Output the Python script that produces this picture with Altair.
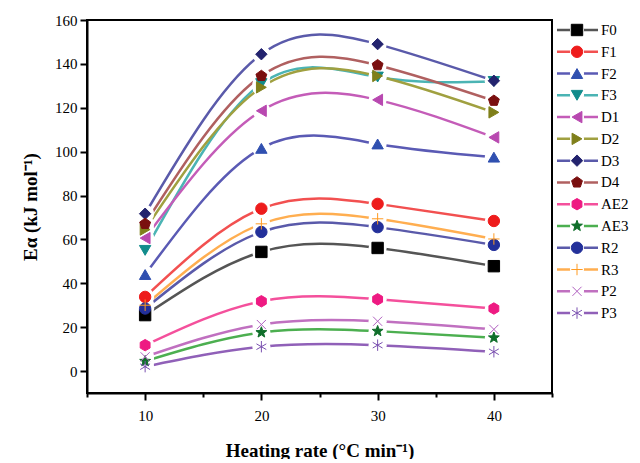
import math
import altair as alt
import pandas as pd

# ---------------- data ----------------
x_rates = [10, 20, 30, 40]
series = ["F0", "F1", "F2", "F3", "D1", "D2", "D3", "D4",
          "AE2", "AE3", "R2", "R3", "P2", "P3"]
F0 = [25.5, 54.3, 56.1, 47.8]
F1 = [33.8, 74.0, 76.2, 68.4]
F2 = [44.0, 101.5, 103.5, 97.5]
F3 = [55.0, 131.0, 134.0, 132.0]
D1 = [60.6, 118.6, 123.6, 106.5]
D2 = [64.5, 129.3, 134.5, 117.9]
D3 = [71.7, 144.4, 149.0, 132.3]
D4 = [67.1, 134.5, 139.4, 123.2]
AE2 = [11.8, 31.8, 32.7, 28.5]
AE3 = [4.5, 17.6, 18.2, 15.2]
R2 = [28.5, 63.4, 65.6, 57.5]
R3 = [30.0, 67.1, 69.4, 60.2]
P2 = [6.5, 21.2, 22.7, 19.0]
P3 = [2.0, 11.1, 11.8, 8.8]
values = [F0, F1, F2, F3, D1, D2, D3, D4, AE2, AE3, R2, R3, P2, P3]

# ---------------- styles ----------------
line_colors = ["#555555", "#f25050", "#5a5ab4", "#4bb4b4", "#c45cb8", "#a0a040",
               "#5a5aaa", "#b06060", "#f4509c", "#4caf50", "#5a5aaa", "#ffae50",
               "#c070c0", "#9060b8"]
marker_colors = ["#000000", "#ee1c1c", "#3050b0", "#128c8c", "#b848b0", "#7f7f1a",
                 "#23236e", "#7a0f0f", "#ee1a82", "#0f6e2a", "#23309a", "#ff9a20",
                 "#b060c0", "#7a50b0"]


def poly(pts):
    return "M" + "L".join(f"{x:.3f},{y:.3f}" for x, y in pts) + "Z"


pentagon = poly([(math.cos(math.radians(-90 + 72 * k)), math.sin(math.radians(-90 + 72 * k))) for k in range(5)])
hexagon = poly([(math.cos(math.radians(-90 + 60 * k)), math.sin(math.radians(-90 + 60 * k))) for k in range(6)])
star = poly([((1.0 if k % 2 == 0 else 0.42) * math.cos(math.radians(-90 + 36 * k)),
              (1.0 if k % 2 == 0 else 0.42) * math.sin(math.radians(-90 + 36 * k))) for k in range(10)])
plus = "M-1,0L1,0M0,-1L0,1"
xcross = "M-0.8,-0.8L0.8,0.8M-0.8,0.8L0.8,-0.8"
asterisk = "M0,-1L0,1M-0.866,-0.5L0.866,0.5M-0.866,0.5L0.866,-0.5"

shapes = ["square", "circle", "triangle-up", "triangle-down", "triangle-left",
          "triangle-right", "diamond", pentagon, hexagon, star, "circle",
          plus, xcross, asterisk]
fill_op = [1] * 11 + [0, 0, 0]
stroke_w = [1] * 11 + [1.5, 1.5, 1.5]

rows = []
for s, vals in zip(series, values):
    for xv, yv in zip(x_rates, vals):
        rows.append({"series": s, "rate": xv, "E": yv})
df = pd.DataFrame(rows)
leg_df = pd.DataFrame({"series": series, "idx": list(range(len(series)))})

FONT = "Liberation Serif"
W, H = 465, 373

xscale = alt.Scale(domain=[5, 45], nice=False)
yscale = alt.Scale(domain=[-10, 160], nice=False)

lc = alt.Color("series:N", scale=alt.Scale(domain=series, range=line_colors), legend=None)
shape_enc = alt.Shape("series:N", scale=alt.Scale(domain=series, range=shapes), legend=None)
fill_enc = alt.Fill("series:N", scale=alt.Scale(domain=series, range=marker_colors), legend=None)
stroke_enc = alt.Stroke("series:N", scale=alt.Scale(domain=series, range=marker_colors), legend=None)
fop_enc = alt.FillOpacity("series:N", scale=alt.Scale(domain=series, range=fill_op), legend=None)
sw_enc = alt.StrokeWidth("series:N", scale=alt.Scale(domain=series, range=stroke_w), legend=None)

x_axis = alt.Axis(
    values=[5, 10, 15, 20, 25, 30, 35, 40, 45],
    labelExpr="datum.value % 10 === 0 ? datum.label : ''",
    tickSize={"condition": {"test": "datum.value % 10 === 0", "value": 7}, "value": 4},
    title="Heating rate (°C min⁻¹)",
    grid=False, labelFont=FONT, labelFontSize=15, labelPadding=8,
    titleFont=FONT, titleFontSize=19, titleFontWeight="bold", titlePadding=18,
    domainColor="black", domainWidth=2, tickColor="black", tickWidth=2,
    labelColor="black", titleColor="black",
)
y_axis = alt.Axis(
    values=list(range(0, 161, 10)),
    labelExpr="datum.value % 20 === 0 ? datum.label : ''",
    tickSize={"condition": {"test": "datum.value % 20 === 0", "value": 7}, "value": 4},
    title="Eα (kJ mol⁻¹)",
    grid=False, labelFont=FONT, labelFontSize=15, labelPadding=3,
    titleFont=FONT, titleFontSize=19, titleFontWeight="bold", titlePadding=14,
    domainColor="black", domainWidth=2, tickColor="black", tickWidth=2,
    labelColor="black", titleColor="black",
)

base = alt.Chart(df)
lines = base.mark_line(interpolate="natural", strokeWidth=2.5).encode(
    x=alt.X("rate:Q", scale=xscale, axis=x_axis),
    y=alt.Y("E:Q", scale=yscale, axis=y_axis),
    color=lc, detail="series:N",
)
halos = base.mark_point(filled=True, shape="circle", size=330, color="white", opacity=1).encode(
    x=alt.X("rate:Q", scale=xscale),
    y=alt.Y("E:Q", scale=yscale),
)
points = base.mark_point(size=130, opacity=1).encode(
    x=alt.X("rate:Q", scale=xscale),
    y=alt.Y("E:Q", scale=yscale),
    shape=shape_enc, fill=fill_enc, stroke=stroke_enc,
    fillOpacity=fop_enc, strokeWidth=sw_enc,
)
main = alt.layer(lines, halos, points)

lscale = alt.Scale(domain=[16.67, -0.459], nice=False, zero=False)
lbase = alt.Chart(leg_df)
ly = alt.Y("idx:Q", scale=lscale, axis=None)
leg_lines = lbase.mark_rule(strokeWidth=2.5).encode(
    x=alt.value(470), x2=alt.value(511), y=ly, color=lc)
leg_halo = lbase.mark_point(filled=True, shape="circle", size=200, color="white", opacity=1).encode(
    x=alt.value(490), y=ly)
leg_pts = lbase.mark_point(size=130, opacity=1).encode(
    x=alt.value(490), y=ly, shape=shape_enc, fill=fill_enc, stroke=stroke_enc,
    fillOpacity=fop_enc, strokeWidth=sw_enc)
leg_text = lbase.mark_text(align="left", baseline="middle", font=FONT, fontSize=15,
                           color="black").encode(
    x=alt.value(514), y=ly, text="series:N")
legend = alt.layer(leg_lines, leg_halo, leg_pts, leg_text)

chart = alt.layer(main, legend).resolve_scale(y="independent").properties(
    width=W, height=H,
    autosize=alt.AutoSizeParams(type="none"),
    padding={"left": 79, "top": 12, "right": 80, "bottom": 66},
    background="white",
).configure_view(stroke="black", strokeWidth=2)

chart.save("out.html", embed_options={"renderer": "svg", "actions": False})
